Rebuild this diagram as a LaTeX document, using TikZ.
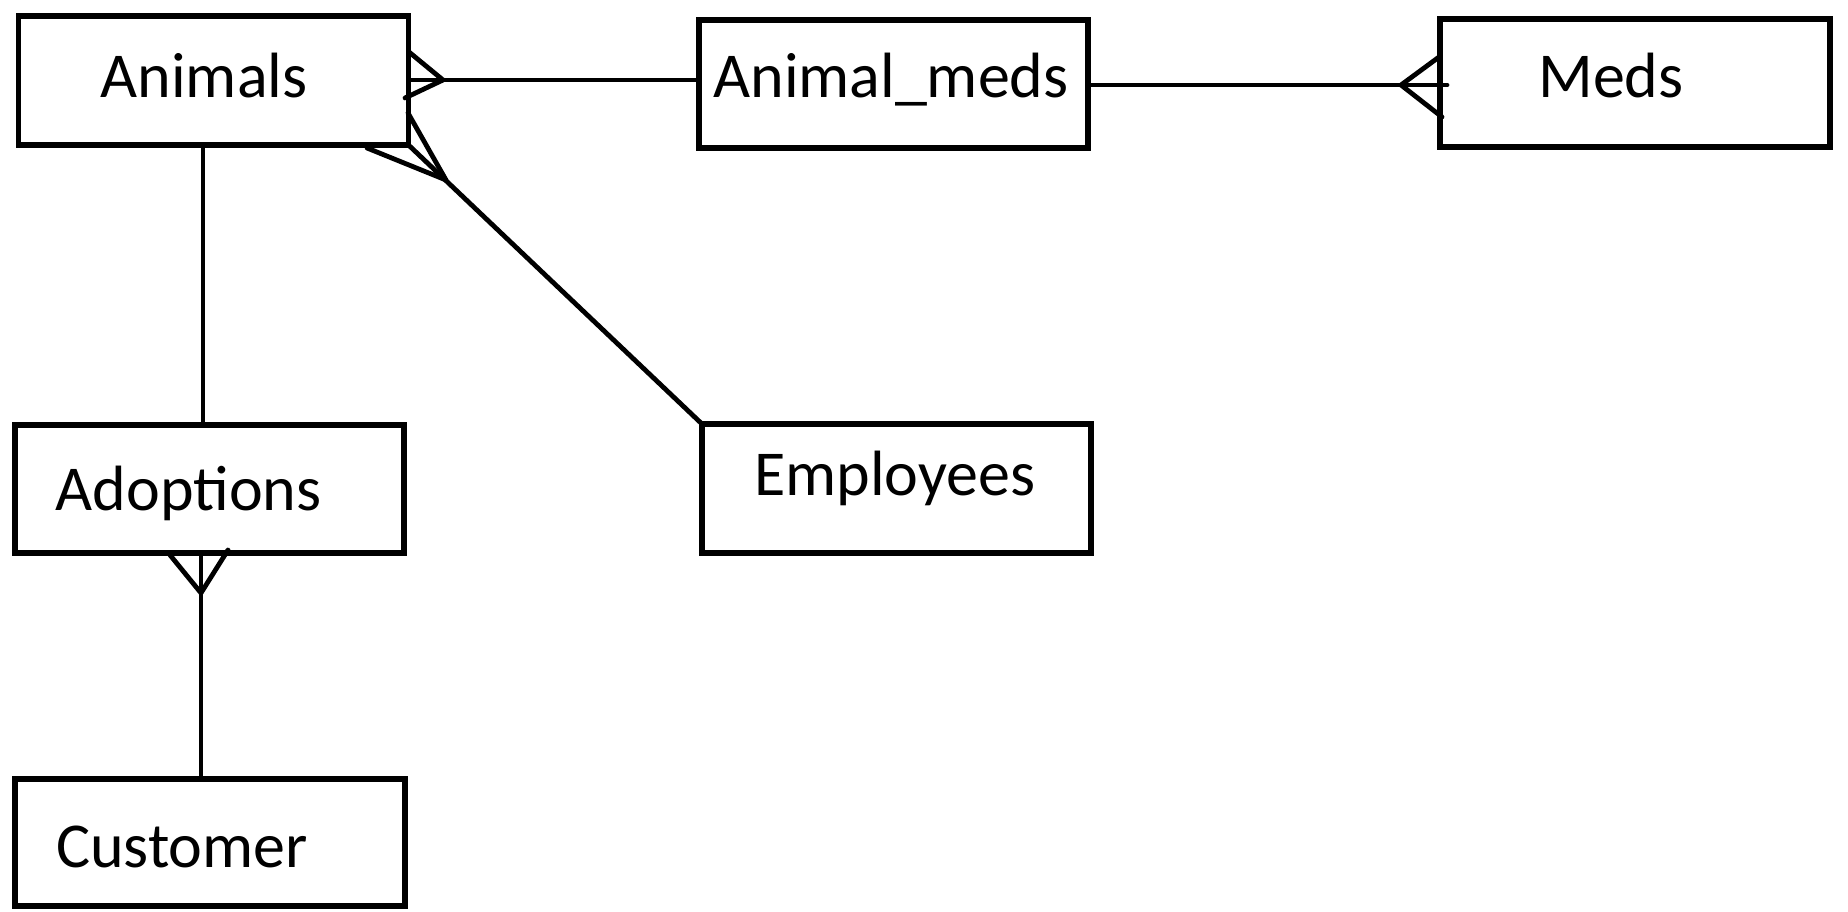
\documentclass[tikz,border=0pt]{standalone}
\usepackage{fontspec}
\setmainfont{Carlito}
\begin{document}
\begin{tikzpicture}[x=1pt,y=-1pt,
  entity/.style={draw=black,line width=5.3pt,rectangle,inner sep=0pt,outer sep=0pt,minimum width=390pt,minimum height=128pt},
  lbl/.style={anchor=base,inner sep=0pt,font=\fontsize{64}{77}\selectfont},
  conn/.style={line width=4.8pt,line cap=round,line join=round}]
\useasboundingbox (0,0) rectangle (1848,912);
% entities
\node[entity,minimum width=390pt,minimum height=129pt] (Animals) at (213.5,80.5) {};
\node[entity,minimum width=389pt] (Animalmeds) at (893.5,84) {};
\node[entity] (Meds) at (1635,83) {};
\node[entity,minimum width=389pt] (Adoptions) at (209.5,489) {};
\node[entity,minimum width=389pt,minimum height=129pt] (Employees) at (896.5,488.5) {};
\node[entity,minimum height=127pt] (Customer) at (210,842.5) {};
% labels
\node[lbl] (tAnimals) at (204,97.7) {Animals};
\node[lbl] (tAnimalmeds) at (891,97.7) {Animal\_meds};
\node[lbl] (tMeds) at (1611,97.7) {Meds};
\node[lbl] (tAdoptions) at (188.6,510) {Adoptions};
\node[lbl] (tEmployees) at (894.6,495) {Employees};
\node[lbl] (tCustomer) at (182,867) {Customer};
% Animals -- Animal_meds (many at Animals)
\coordinate (a1) at (Animals.east |- 0,80);
\coordinate (cfA) at (443,80);
\draw[conn] (a1) -- (a1 -| Animalmeds.west);
\draw[conn] (409,52) -- (cfA) -- (405,98);
% Animal_meds -- Meds (many at Meds)
\coordinate (m1) at (Animalmeds.east |- 0,85);
\coordinate (cfM) at (1401,85);
\draw[conn] (m1) -- (1447,85);
\draw[conn] (1439,57) -- (cfM) -- (1442,117);
% Animals -- Adoptions
\coordinate (v1) at (203,0);
\draw[conn] (v1 |- Animals.south) -- (v1 |- Adoptions.north);
% Adoptions -- Customer (many at Adoptions)
\coordinate (v2) at (201,0);
\coordinate (cfD) at (201,593);
\draw[conn] (v2 |- Adoptions.south) -- (v2 |- Customer.north);
\draw[conn] (170,555) -- (cfD) -- (228,550);
% Animals -- Employees (many at Animals)
\coordinate (cfE) at (446,180);
\draw[conn] (Animals.south east) -- (Employees.north west);
\draw[conn] (408,113) -- (cfE) -- (367,148);
\end{tikzpicture}
\end{document}
